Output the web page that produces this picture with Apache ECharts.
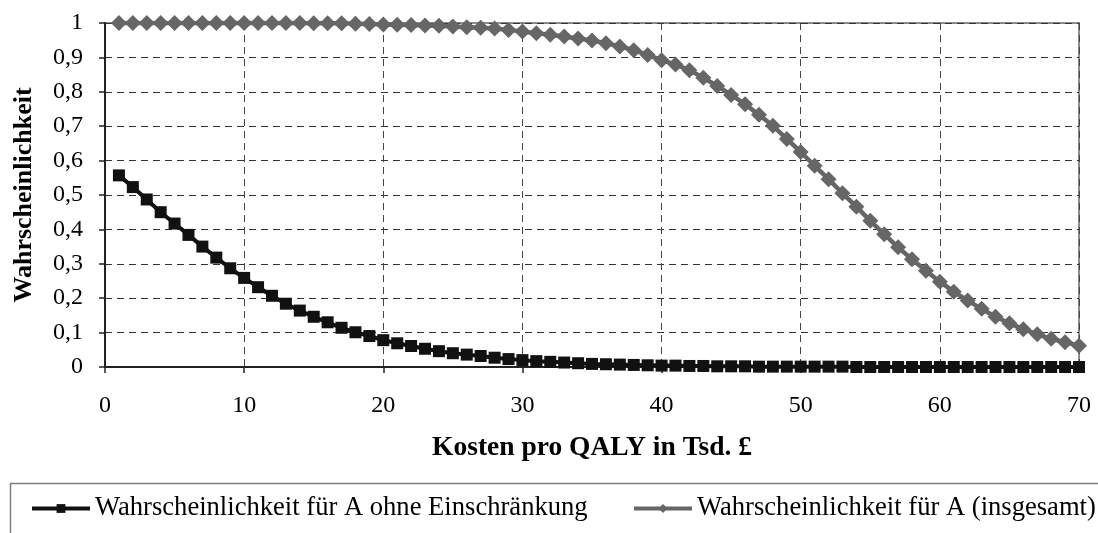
<!DOCTYPE html>
<html><head><meta charset="utf-8">
<script src="https://cdn.jsdelivr.net/npm/echarts@6/dist/echarts.min.js"></script>
<style>html,body{margin:0;padding:0;background:#fff}#c{width:1098px;height:533px}</style>
</head><body><div id="c"></div>
<script>
const xValues = [1,2,3,4,5,6,7,8,9,10,11,12,13,14,15,16,17,18,19,20,21,22,23,24,25,26,27,28,29,30,31,32,33,34,35,36,37,38,39,40,41,42,43,44,45,46,47,48,49,50,51,52,53,54,55,56,57,58,59,60,61,62,63,64,65,66,67,68,69,70];
const probOhneEinschraenkung = [0.557,0.523,0.487,0.450,0.417,0.384,0.350,0.318,0.287,0.259,0.232,0.207,0.184,0.164,0.146,0.130,0.114,0.101,0.090,0.078,0.069,0.061,0.053,0.046,0.040,0.036,0.032,0.027,0.023,0.020,0.017,0.015,0.013,0.011,0.009,0.008,0.007,0.006,0.005,0.004,0.004,0.003,0.003,0.002,0.002,0.002,0.001,0.001,0.001,0.001,0.001,0.001,0.001,0,0,0,0,0,0,0,0,0,0,0,0,0,0,0,0,0];
const probInsgesamt = [1.000,1.000,1.000,1.000,1.000,1.000,1.000,1.000,1.000,1.000,1.000,1.000,1.000,1.000,0.999,0.999,0.999,0.998,0.997,0.996,0.995,0.994,0.993,0.992,0.990,0.988,0.986,0.984,0.980,0.975,0.970,0.966,0.961,0.955,0.949,0.941,0.932,0.921,0.907,0.892,0.879,0.863,0.841,0.817,0.791,0.764,0.733,0.701,0.663,0.625,0.585,0.546,0.505,0.466,0.425,0.386,0.348,0.313,0.280,0.248,0.219,0.193,0.169,0.146,0.127,0.110,0.095,0.082,0.072,0.062];
const seriesNames = ['Wahrscheinlichkeit für A ohne Einschränkung','Wahrscheinlichkeit für A (insgesamt)'];
const xTitle = 'Kosten pro QALY in Tsd. £';
const yTitle = 'Wahrscheinlichkeit';

const FONT = '"Liberation Serif","Times New Roman",serif';
const BLACK = '#111111', GRAY = '#666666';
const chart = echarts.init(document.getElementById('c'), null, {renderer:'canvas'});
const pairs = (ys) => xValues.map((x,i)=>[x, ys[i]]);
const legendBase = {top:495, padding:0, itemWidth:58, itemHeight:11, textStyle:{fontFamily:FONT, fontSize:26.6, color:'#000'}};
chart.setOption({
  animation:false,
  backgroundColor:'#fff',
  textStyle:{fontFamily:FONT},
  grid:{left:105, right:19, top:23, height:344, show:true, borderColor:'#8c8c8c', borderWidth:2, backgroundColor:'transparent'},
  xAxis:{type:'value', min:0, max:70, interval:10,
    name:xTitle, nameLocation:'middle', nameGap:67,
    nameTextStyle:{fontFamily:FONT, fontSize:27.5, fontWeight:'bold', color:'#000'},
    axisLine:{lineStyle:{color:'#222', width:2}},
    axisTick:{show:true, inside:false, length:6, lineStyle:{color:'#222', width:1.5}},
    axisLabel:{fontFamily:FONT, fontSize:24, color:'#000', margin:27},
    splitLine:{show:true, lineStyle:{color:'#444', type:[7,5], width:1}}},
  yAxis:{type:'value', min:0, max:1, interval:0.1,
    name:yTitle, nameLocation:'middle', nameGap:68, nameRotate:90,
    nameTextStyle:{fontFamily:FONT, fontSize:26, fontWeight:'bold', color:'#000'},
    axisLine:{show:true, lineStyle:{color:'#222', width:2}},
    axisTick:{show:true, inside:false, length:6, lineStyle:{color:'#222', width:1.5}},
    axisLabel:{fontFamily:FONT, fontSize:24, color:'#000', margin:22,
      formatter:(v)=> (Math.round(v*10)/10).toString().replace('.',',')},
    splitLine:{show:true, lineStyle:{color:'#333', type:[7,5], width:1}}},
  legend:[
    Object.assign({left:30, data:[{name:seriesNames[0], lineStyle:{width:4, color:BLACK}, itemStyle:{color:BLACK}}]}, legendBase),
    Object.assign({left:632, data:[{name:seriesNames[1], lineStyle:{width:4, color:GRAY}, itemStyle:{color:GRAY}}]}, legendBase)
  ],
  graphic:[{type:'rect', left:8, top:481, shape:{width:1100, height:70},
    style:{fill:'none', stroke:'#7f7f7f', lineWidth:1.5}, silent:true, z:-1}],
  series:[
    {name:seriesNames[1], type:'line', data:pairs(probInsgesamt), symbol:'diamond', symbolSize:16,
     lineStyle:{color:GRAY, width:4.5}, itemStyle:{color:GRAY}, z:2},
    {name:seriesNames[0], type:'line', data:pairs(probOhneEinschraenkung), symbol:'rect', symbolSize:12,
     lineStyle:{color:BLACK, width:4}, itemStyle:{color:BLACK}, z:3}
  ]
});
</script></body></html>
